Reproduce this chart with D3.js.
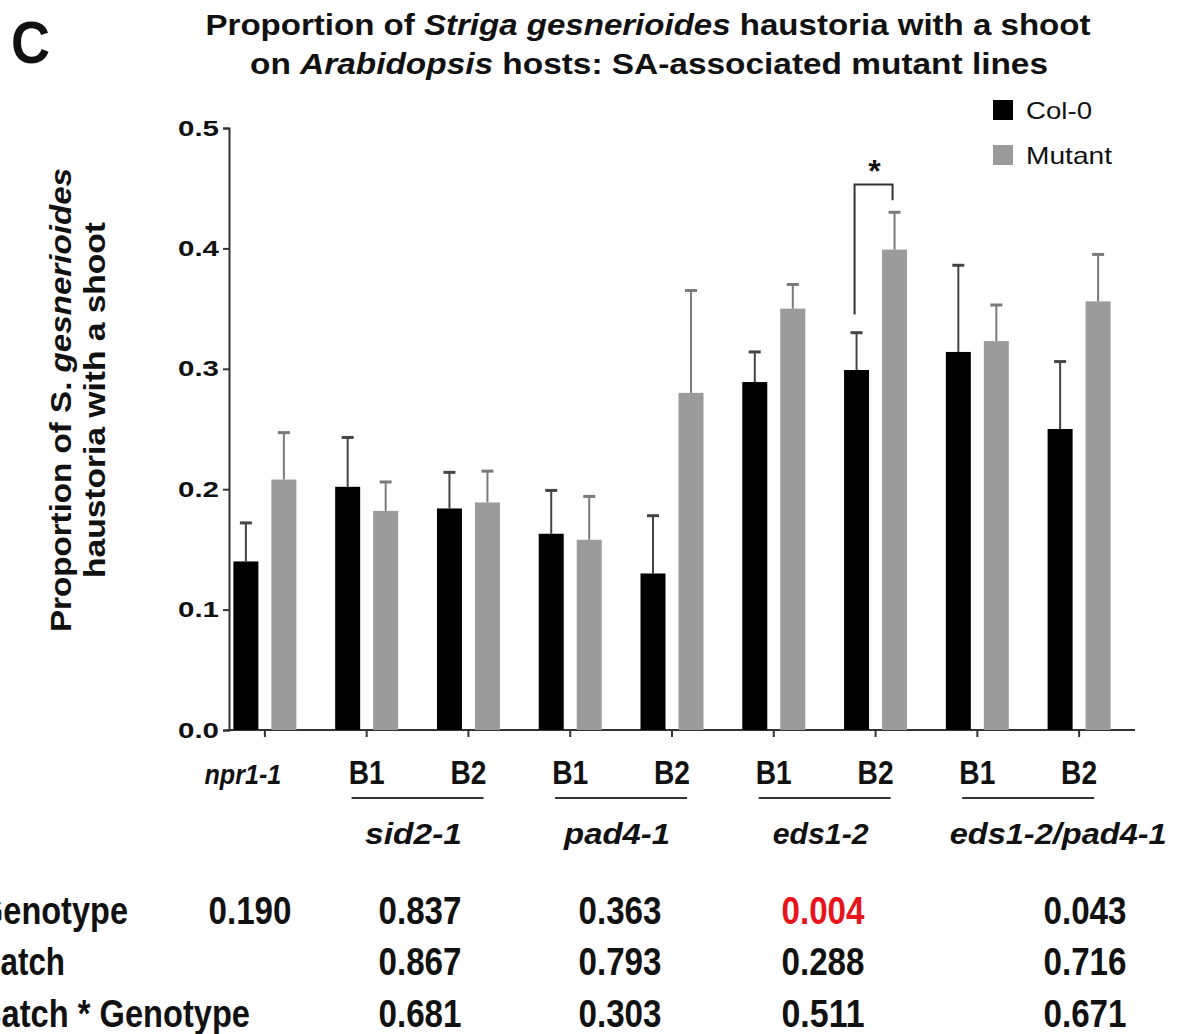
<!DOCTYPE html>
<html lang="en">
<head>
  <meta charset="UTF-8">
  <title>Striga haustoria - SA mutants</title>
  <script src="https://d3js.org/d3.v7.min.js"></script>
  <style>
    body { margin: 0; background: #fff; }
    svg text { font-family: "Liberation Sans", Arial, sans-serif; font-weight: bold; fill: #111; }
  </style>
</head>
<body>
  <div class="chart"></div>
  <script>
    // data
    const groups = ['npr1-1', 'sid2-1 B1', 'sid2-1 B2', 'pad4-1 B1', 'pad4-1 B2',
                    'eds1-2 B1', 'eds1-2 B2', 'eds1-2/pad4-1 B1', 'eds1-2/pad4-1 B2'];
    const tickLabels = ['npr1-1', 'B1', 'B2', 'B1', 'B2', 'B1', 'B2', 'B1', 'B2'];
    const col0 = [0.140, 0.202, 0.184, 0.163, 0.130, 0.289, 0.299, 0.314, 0.250];
    const col0Err = [0.032, 0.041, 0.030, 0.036, 0.048, 0.025, 0.031, 0.072, 0.056];
    const mutant = [0.208, 0.182, 0.189, 0.158, 0.280, 0.350, 0.399, 0.323, 0.356];
    const mutantErr = [0.039, 0.024, 0.026, 0.036, 0.085, 0.020, 0.031, 0.030, 0.039];
    const yTicks = [0, 0.1, 0.2, 0.3, 0.4, 0.5];
    const genes = ['sid2-1', 'pad4-1', 'eds1-2', 'eds1-2/pad4-1'];
    const geneFirstGroup = [1, 3, 5, 7];
    const rowLabels = ['Genotype', 'Batch', 'Batch * Genotype'];
    const pGenotype = ['0.190', '0.837', '0.363', '0.004', '0.043'];
    const pBatch = ['', '0.867', '0.793', '0.288', '0.716'];
    const pBatchGenotype = ['', '0.681', '0.303', '0.511', '0.671'];

    const W = 1177, H = 1034;
    const svg = d3.select('.chart').append('svg').attr('width', W).attr('height', H);

    const x = d3.scaleBand().domain(groups).range([214, 1130]);
    const y = d3.scaleLinear().domain([0, 0.5]).range([730, 128]);
    const barW = 25, off = 19;

    // helper: text squeezed to a given width
    function label(g, txt, px, py, size, width, anchor, italic) {
      const t = g.append('text').attr('x', px).attr('y', py)
        .attr('font-size', size).attr('text-anchor', anchor || 'middle')
        .text(txt);
      if (italic) t.attr('font-style', 'italic');
      if (width) t.attr('textLength', width).attr('lengthAdjust', 'spacingAndGlyphs');
      return t;
    }

    // panel letter
    label(svg, 'C', 11, 63, 60, 39, 'start');

    // title
    const t1 = svg.append('text').attr('x', 648).attr('y', 35).attr('font-size', 29)
      .attr('text-anchor', 'middle').attr('textLength', 885).attr('lengthAdjust', 'spacingAndGlyphs');
    t1.append('tspan').text('Proportion of ');
    t1.append('tspan').attr('font-style', 'italic').text('Striga gesnerioides');
    t1.append('tspan').text(' haustoria with a shoot');
    const t2 = svg.append('text').attr('x', 649).attr('y', 74).attr('font-size', 29)
      .attr('text-anchor', 'middle').attr('textLength', 798).attr('lengthAdjust', 'spacingAndGlyphs');
    t2.append('tspan').text('on ');
    t2.append('tspan').attr('font-style', 'italic').text('Arabidopsis');
    t2.append('tspan').text(' hosts: SA-associated mutant lines');

    // y axis title
    const yt = svg.append('g').attr('transform', 'translate(0,400) rotate(-90)');
    const yl1 = yt.append('text').attr('x', 0).attr('y', 71).attr('font-size', 29)
      .attr('text-anchor', 'middle').attr('textLength', 464).attr('lengthAdjust', 'spacingAndGlyphs');
    yl1.append('tspan').text('Proportion of S. ');
    yl1.append('tspan').attr('font-style', 'italic').text('gesnerioides');
    label(yt, 'haustoria with a shoot', 0, 105, 29, 356);

    // y axis
    const yAxis = svg.append('g').attr('transform', 'translate(229,0)')
      .call(d3.axisLeft(y).tickValues(yTicks).tickFormat(d3.format('.1f')).tickSize(6).tickPadding(4));
    yAxis.select('.domain').attr('stroke', '#333').attr('stroke-width', 2);
    yAxis.selectAll('.tick line').attr('stroke', '#333').attr('stroke-width', 2);
    yAxis.selectAll('.tick text').attr('font-size', 22).attr('font-family', null).attr('font-weight', null)
      .attr('fill', '#222').attr('textLength', 41).attr('lengthAdjust', 'spacingAndGlyphs');

    // x axis
    const xAxis = svg.append('g').attr('transform', 'translate(0,730)')
      .call(d3.axisBottom(x).tickSize(7).tickFormat(''));
    xAxis.select('.domain').remove();
    xAxis.selectAll('.tick line').attr('stroke', '#333').attr('stroke-width', 2);
    svg.append('line').attr('x1', 228).attr('x2', 1135).attr('y1', 730).attr('y2', 730)
      .attr('stroke', '#333').attr('stroke-width', 2);

    const cx = d => x(d) + x.bandwidth() / 2;

    // error bars (drawn first so bars cover the stem base)
    function errBars(vals, errs, dx, color) {
      const g = svg.append('g').attr('stroke', color).attr('stroke-width', 2);
      g.selectAll('line.stem').data(groups).enter().append('line')
        .attr('x1', (d) => cx(d) + dx).attr('x2', (d) => cx(d) + dx)
        .attr('y1', (d, i) => y(vals[i])).attr('y2', (d, i) => y(vals[i] + errs[i]));
      g.selectAll('line.cap').data(groups).enter().append('line')
        .attr('x1', (d) => cx(d) + dx - 6).attr('x2', (d) => cx(d) + dx + 6)
        .attr('y1', (d, i) => y(vals[i] + errs[i])).attr('y2', (d, i) => y(vals[i] + errs[i]))
        .attr('stroke-width', 3);
    }
    errBars(col0, col0Err, -off, '#444');
    errBars(mutant, mutantErr, off, '#7a7a7a');

    svg.append('g').selectAll('rect').data(groups).enter().append('rect')
      .attr('x', d => cx(d) - off - barW / 2).attr('width', barW)
      .attr('y', (d, i) => y(col0[i])).attr('height', (d, i) => y(0) - y(col0[i]))
      .style('fill', '#000');
    svg.append('g').selectAll('rect').data(groups).enter().append('rect')
      .attr('x', d => cx(d) + off - barW / 2).attr('width', barW)
      .attr('y', (d, i) => y(mutant[i])).attr('height', (d, i) => y(0) - y(mutant[i]))
      .style('fill', '#9b9b9b');

    // significance bracket on eds1-2 B2
    const sg = groups[6];
    svg.append('path')
      .attr('d', `M${cx(sg) - off - 2},${y(0.345)} V${y(0.453)} H${cx(sg) + off - 2} V${y(0.44)}`)
      .attr('fill', 'none').attr('stroke', '#333').attr('stroke-width', 2);
    label(svg, '*', cx(sg) - 1, y(0.453) - 3, 32, null);

    // legend
    const legend = svg.append('g');
    legend.append('rect').attr('x', 993).attr('y', 100).attr('width', 20).attr('height', 20).style('fill', '#000');
    legend.append('rect').attr('x', 993).attr('y', 145).attr('width', 20).attr('height', 20).style('fill', '#9b9b9b');
    label(legend, 'Col-0', 1026, 119, 24, 66, 'start').style('font-weight', 'normal');
    label(legend, 'Mutant', 1026, 164, 24, 86, 'start').style('font-weight', 'normal');

    // category labels
    const xl = svg.append('g');
    xl.selectAll('text').data(groups).enter().append('text')
      .attr('x', (d, i) => i === 0 ? cx(d) - 22 : cx(d))
      .attr('y', 784).attr('font-size', (d, i) => i === 0 ? 27 : 33)
      .attr('text-anchor', 'middle')
      .attr('font-style', (d, i) => i === 0 ? 'italic' : null)
      .attr('textLength', (d, i) => i === 0 ? 77 : 36).attr('lengthAdjust', 'spacingAndGlyphs')
      .text((d, i) => tickLabels[i]);

    // gene underlines and names
    const geneW = [97, 106, 96, 217];
    genes.forEach((gname, j) => {
      const a = cx(groups[geneFirstGroup[j]]), b = cx(groups[geneFirstGroup[j] + 1]);
      const mid = (a + b) / 2;
      svg.append('line').attr('x1', mid - 66).attr('x2', mid + 66).attr('y1', 798).attr('y2', 798)
        .attr('stroke', '#333').attr('stroke-width', 2);
      label(svg, gname, j === 3 ? mid + 30 : mid - 4, 844, 30, geneW[j], 'middle', true);
    });

    // p-value table
    const colX = [250, 420, 620, 823, 1085];
    const rowY = [924, 975, 1027];
    const rows = [pGenotype, pBatch, pBatchGenotype];
    const labW = [150, 87, 272];
    rowLabels.forEach((r, i) => {
      label(svg, r, -22, rowY[i], 38, labW[i], 'start');
      rows[i].forEach((v, j) => {
        if (!v) return;
        label(svg, v, colX[j], rowY[i], 39, 83, 'middle')
          .style('fill', (i === 0 && j === 3) ? '#e8141b' : '#111');
      });
    });
  </script>
</body>
</html>
